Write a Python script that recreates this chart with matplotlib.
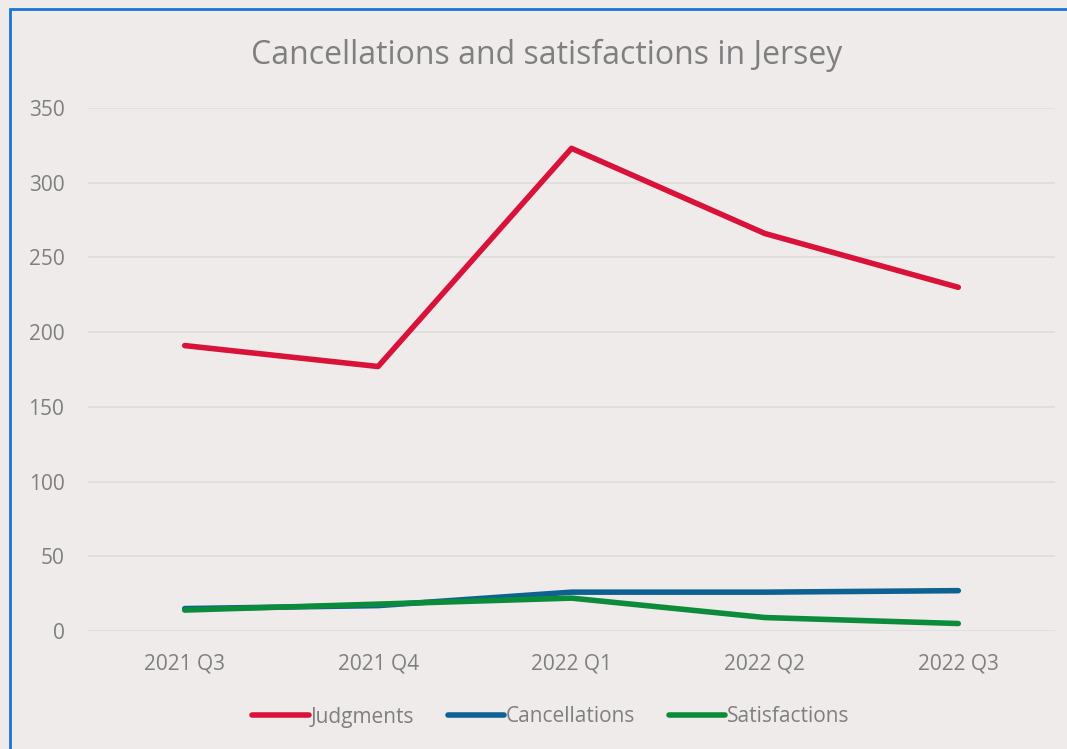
import matplotlib.pyplot as plt
from matplotlib.patches import Rectangle

quarters = ['2021 Q3', '2021 Q4', '2022 Q1', '2022 Q2', '2022 Q3']
judgments = [191, 177, 323, 266, 230]
cancellations = [15, 17, 26, 26, 27]
satisfactions = [14, 18, 22, 9, 5]

bg = '#EEEBEA'
txt = '#7F7F7F'
plt.rcParams['font.family'] = ['Open Sans', 'DejaVu Sans']

fig = plt.figure(figsize=(10.67, 7.49), dpi=100, facecolor=bg)
# blue border of the chart frame (runs off the right and bottom edges)
fig.patches.append(Rectangle((10 / 1067, -0.1), 1.2, 1 - 9 / 749 + 0.1,
                             transform=fig.transFigure, fill=False,
                             edgecolor='#1677D2', linewidth=2))

ax = fig.add_axes([88 / 1067, 1 - 631 / 749, (1055 - 88) / 1067, (631 - 108) / 749])
ax.set_facecolor(bg)

x = range(len(quarters))
ax.plot(x, judgments, color='#D9123A', lw=4, solid_capstyle='round', label='Judgments')
ax.plot(x, cancellations, color='#0E6291', lw=4, solid_capstyle='round', label='Cancellations')
ax.plot(x, satisfactions, color='#0C8C3A', lw=4, solid_capstyle='round', label='Satisfactions')

ax.set_xlim(-0.5, len(quarters) - 0.5)
ax.set_ylim(0, 350)
ax.set_yticks(range(0, 351, 50))
ax.set_xticks(list(x))
ax.set_xticklabels(quarters)
ax.grid(axis='y', color='#DEDDDB', lw=1.2)
ax.set_axisbelow(True)
for s in ax.spines.values():
    s.set_visible(False)
ax.tick_params(length=0, labelsize=15, colors=txt)
ax.tick_params(axis='x', pad=16)
ax.tick_params(axis='y', pad=17)

fig.text(547 / 1067, 1 - 55 / 749, 'Cancellations and satisfactions in Jersey',
         ha='center', va='center', fontsize=23, color=txt)

leg = fig.legend(loc='center', bbox_to_anchor=(551 / 1067, 1 - 717 / 749), ncol=3,
                 frameon=False, fontsize=15, handlelength=2.7, handletextpad=0.1,
                 columnspacing=1.6)
for t in leg.get_texts():
    t.set_color(txt)

fig.savefig('out.png', dpi=100, facecolor=bg)
